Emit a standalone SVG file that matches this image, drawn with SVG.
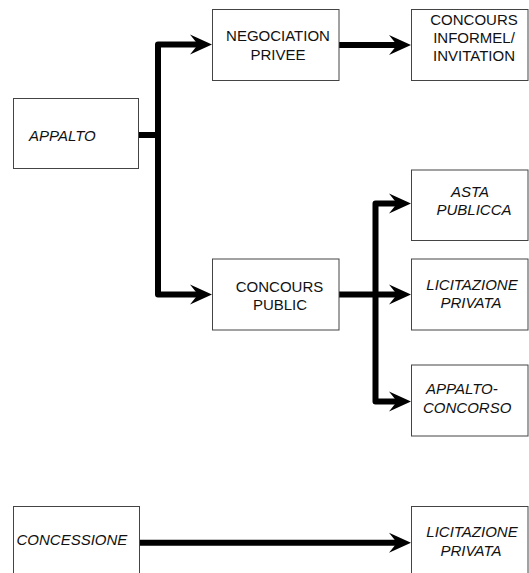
<svg xmlns="http://www.w3.org/2000/svg" width="529" height="573" viewBox="0 0 529 573">
  <style>
    .box { fill: #ffffff; stroke: #444444; stroke-width: 1; }
    .lbl { font-family: "Liberation Sans", Arial, sans-serif; font-size: 15px; fill: #111111; }
    .it { font-style: italic; }
    .mid { text-anchor: middle; }
    .wire { fill: none; stroke: #000000; stroke-width: 6; stroke-linecap: round; stroke-linejoin: round; }
  </style>
  <defs>
    <marker id="arrow" markerUnits="userSpaceOnUse" markerWidth="24" markerHeight="24" viewBox="0 0 24 22" refX="10" refY="11" orient="auto">
      <path d="M0,1 L22,11 L0,21 L8,11 Z" fill="#000000"/>
    </marker>
  </defs>
  <rect width="529" height="573" fill="#ffffff"/>

  <g id="connectors">
    <path class="wire" d="M139,135 H158 V44.5 H200" marker-end="url(#arrow)"/>
    <path class="wire" d="M158,135 V294.5 H200" marker-end="url(#arrow)"/>
    <path class="wire" d="M338,45 H399" marker-end="url(#arrow)"/>
    <path class="wire" d="M339,294.5 H399" marker-end="url(#arrow)"/>
    <path class="wire" d="M375.5,294.5 V203.5 H399" marker-end="url(#arrow)"/>
    <path class="wire" d="M375.5,294.5 V401.5 H399" marker-end="url(#arrow)"/>
    <path class="wire" d="M140,542.7 H399" marker-end="url(#arrow)"/>
  </g>

  <g id="appalto">
    <rect class="box" x="13.5" y="98.5" width="125" height="70"/>
    <text class="lbl it" x="29" y="141">APPALTO</text>
  </g>

  <g id="negociation-privee">
    <rect class="box" x="212.5" y="9.5" width="126.5" height="71"/>
    <text class="lbl mid" x="278" y="40.7">NEGOCIATION</text>
    <text class="lbl mid" x="278" y="60">PRIVEE</text>
  </g>

  <g id="concours-informel">
    <rect class="box" x="411.5" y="9.5" width="116.5" height="71"/>
    <text class="lbl mid" x="474" y="25">CONCOURS</text>
    <text class="lbl mid" x="474" y="43.3">INFORMEL/</text>
    <text class="lbl mid" x="474" y="61">INVITATION</text>
  </g>

  <g id="asta-publicca">
    <rect class="box" x="411.5" y="170" width="116.5" height="70.5"/>
    <text class="lbl it mid" x="470" y="197.3">ASTA</text>
    <text class="lbl it mid" x="474" y="215">PUBLICCA</text>
  </g>

  <g id="concours-public">
    <rect class="box" x="212.5" y="259" width="126.5" height="71"/>
    <text class="lbl mid" x="279.5" y="291.7">CONCOURS</text>
    <text class="lbl mid" x="280" y="310">PUBLIC</text>
  </g>

  <g id="licitazione-privata-1">
    <rect class="box" x="411.5" y="259" width="116.5" height="71"/>
    <text class="lbl it mid" x="472" y="289.5">LICITAZIONE</text>
    <text class="lbl it mid" x="471" y="308">PRIVATA</text>
  </g>

  <g id="appalto-concorso">
    <rect class="box" x="411.5" y="365" width="116.5" height="71"/>
    <text class="lbl it" x="426" y="394">APPALTO-</text>
    <text class="lbl it" x="423" y="412.7">CONCORSO</text>
  </g>

  <g id="concessione">
    <rect class="box" x="13.5" y="506.5" width="126" height="80"/>
    <text class="lbl it" x="16.5" y="545">CONCESSIONE</text>
  </g>

  <g id="licitazione-privata-2">
    <rect class="box" x="411.5" y="506.5" width="116.5" height="80"/>
    <text class="lbl it mid" x="472" y="537.3">LICITAZIONE</text>
    <text class="lbl it mid" x="471" y="555.7">PRIVATA</text>
  </g>
</svg>
